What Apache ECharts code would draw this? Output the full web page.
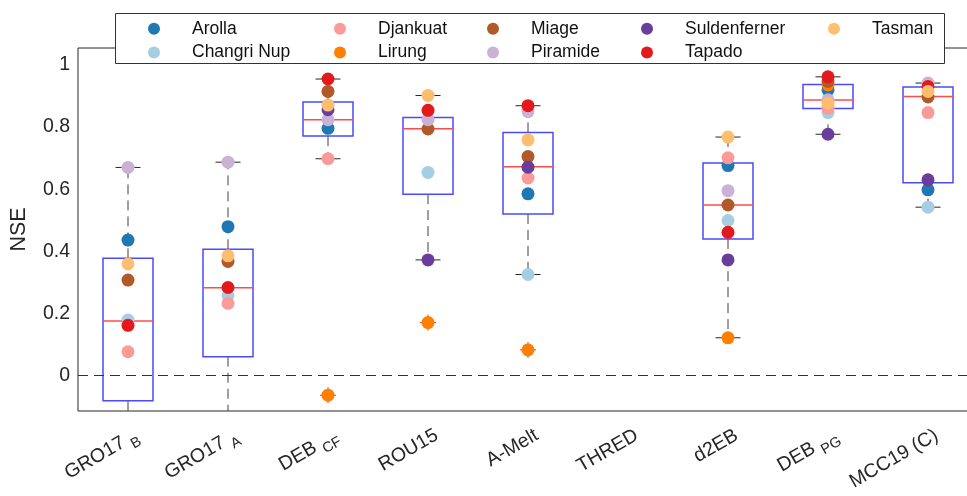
<!DOCTYPE html>
<html><head><meta charset="utf-8">
<script src="https://cdn.jsdelivr.net/npm/echarts@6/dist/echarts.min.js"></script>
<style>html,body{margin:0;padding:0;background:#fff}#c{width:967px;height:496px}</style>
</head><body><div id="c"></div>
<script>
// ---- data ----
const categories = ['GRO17_B','GRO17_A','DEB_CF','ROU15','A-Melt','THRED','d2EB','DEB_PG','MCC19 (C)'];
const labelMain = ['GRO17','GRO17','DEB','ROU15','A-Melt','THRED','d2EB','DEB','MCC19 (C)'];
const labelSub  = ['B','A','CF','','','','','PG',''];
const yTickValues = [0, 0.2, 0.4, 0.6, 0.8, 1];
const yTickLabels = ['0','0.2','0.4','0.6','0.8','1'];

// box statistics per category (null = no box)
const boxLow  = [-0.35, -0.30, 0.698, 0.372, 0.325, null, 0.121, 0.777, 0.542];
const boxQ1   = [-0.082, 0.060, 0.771, 0.584, 0.520, null, 0.439, 0.860, 0.621];
const boxMed  = [0.175, 0.282, 0.824, 0.795, 0.672, null, 0.549, 0.887, 0.899];
const boxQ3   = [0.377, 0.406, 0.881, 0.831, 0.783, null, 0.684, 0.937, 0.929];
const boxHigh = [0.670, 0.687, 0.955, 0.902, 0.869, null, 0.768, 0.962, 0.942];

// NSE per glacier, in category order
const glaciers = ['Arolla','Changri Nup','Djankuat','Lirung','Miage','Piramide','Suldenferner','Tapado','Tasman'];
const colors   = ['#1f78b4','#a6cee3','#fb9a99','#ff7f00','#b15928','#cab2d6','#6a3d9a','#e31a1c','#fdbf6f'];
const arolla       = [0.436, 0.479, 0.796, null, 0.585, null, 0.676, 0.920, 0.598];
const changriNup   = [0.178, 0.257, null, 0.654, 0.325, null, 0.499, 0.847, 0.542];
const djankuat     = [0.076, 0.232, 0.698, null, 0.636, null, 0.701, 0.861, 0.847];
const lirung       = [null, null, -0.064, 0.170, 0.082, null, 0.121, 0.936, null];
const miage        = [0.307, 0.367, 0.915, 0.794, 0.705, null, 0.549, 0.947, 0.897];
const piramide     = [0.670, 0.687, 0.824, 0.824, 0.850, null, 0.595, 0.888, 0.942];
const suldenferner = [null, null, 0.856, 0.372, 0.671, null, 0.372, 0.777, 0.630];
const tapado       = [0.161, 0.283, 0.955, 0.854, 0.869, null, 0.461, 0.962, 0.931];
const tasman       = [0.359, 0.385, 0.871, 0.902, 0.759, null, 0.768, 0.877, 0.915];
const glacierValues = [arolla, changriNup, djankuat, lirung, miage, piramide, suldenferner, tapado, tasman];

const legendCols = [['Arolla','Changri Nup'],['Djankuat','Lirung'],['Miage','Piramide'],['Suldenferner','Tapado'],['Tasman']];

// ---- chart ----
const FONT = '"Liberation Sans", Arial, Helvetica, sans-serif';
const chart = echarts.init(document.getElementById('c'), null, {renderer:'canvas'});

const boxData = [];
categories.forEach((c, i) => {
  if (boxMed[i] != null) boxData.push([i, boxLow[i], boxQ1[i], boxMed[i], boxQ3[i], boxHigh[i]]);
});
const outliers = [];
glacierValues.forEach(vals => vals.forEach((v, i) => {
  if (v != null && boxMed[i] != null && (v < boxLow[i] - 1e-6 || v > boxHigh[i] + 1e-6)) outliers.push([i, v]);
}));

const series = [];
series.push({
  type: 'custom', clip: true, z: 2, silent: true,
  encode: {x: 0, y: [1,2,3,4,5]},
  data: boxData,
  renderItem(params, api) {
    const i = api.value(0);
    const bw = api.size([1, 0])[0];
    const half = bw * 0.25, capHalf = bw * 0.125;
    const p = k => api.coord([i, api.value(k)]);
    const pl = p(1), p1 = p(2), pm = p(3), p3 = p(4), ph = p(5);
    const cx = pl[0];
    const dash = {stroke: '#404040', lineWidth: 1, lineDash: [10, 6], fill: null};
    const cap = {stroke: '#262626', lineWidth: 1, fill: null};
    return {type: 'group', children: [
      {type: 'line', shape: {x1: cx, y1: p3[1], x2: cx, y2: ph[1]}, style: dash},
      {type: 'line', shape: {x1: cx, y1: p1[1], x2: cx, y2: pl[1]}, style: dash},
      {type: 'line', shape: {x1: cx - capHalf, y1: ph[1], x2: cx + capHalf, y2: ph[1]}, style: cap},
      {type: 'line', shape: {x1: cx - capHalf, y1: pl[1], x2: cx + capHalf, y2: pl[1]}, style: cap},
      {type: 'rect', shape: {x: cx - half, y: p3[1], width: 2 * half, height: p1[1] - p3[1]},
        style: {fill: null, stroke: '#4a4aff', lineWidth: 1.5}},
      {type: 'line', shape: {x1: cx - half, y1: pm[1], x2: cx + half, y2: pm[1]},
        style: {stroke: '#ff4a4a', lineWidth: 1.5}}
    ]};
  },
  markLine: {
    silent: true, symbol: ['none', 'none'], label: {show: false}, animation: false,
    lineStyle: {type: [10, 6], color: '#333', width: 1},
    data: [{yAxis: 0}]
  }
});
series.push({
  type: 'custom', clip: true, z: 3, silent: true,
  encode: {x: 0, y: 1},
  data: outliers,
  renderItem(params, api) {
    const c = api.coord([api.value(0), api.value(1)]);
    const s = 8;
    const st = {stroke: '#ff2a2a', lineWidth: 1};
    return {type: 'group', children: [
      {type: 'line', shape: {x1: c[0] - s, y1: c[1], x2: c[0] + s, y2: c[1]}, style: st},
      {type: 'line', shape: {x1: c[0], y1: c[1] - s, x2: c[0], y2: c[1] + s}, style: st}
    ]};
  }
});
glaciers.forEach((g, k) => {
  series.push({
    type: 'scatter', name: g, symbol: 'circle', symbolSize: 13, z: 5,
    itemStyle: {color: colors[k], opacity: 1},
    data: glacierValues[k].map((v, i) => [i, v]).filter(d => d[1] != null)
  });
});

const legendLeft = [148, 334, 487, 641, 828];
const legends = legendCols.map((d, k) => ({
  data: d, orient: 'vertical', left: legendLeft[k], top: 19.8, padding: 0,
  itemWidth: 12, itemHeight: 12, itemGap: 5.7, icon: 'circle', selectedMode: false, z: 20,
  textStyle: {fontSize: 17.5, lineHeight: 17, color: '#111', fontFamily: FONT, padding: [0, 0, 0, 27]}
}));

chart.setOption({
  animation: false,
  backgroundColor: '#fff',
  color: colors,
  grid: {left: 78, top: 48, width: 900, height: 363, show: true, borderColor: '#262626', borderWidth: 1,
    backgroundColor: 'transparent', containLabel: false, outerBoundsMode: 'none'},
  legend: legends,
  graphic: [{type: 'rect', z: 10, shape: {x: 115.5, y: 13.5, width: 829, height: 50},
    style: {fill: '#fff', stroke: '#333', lineWidth: 1}}],
  xAxis: {
    type: 'category', data: categories, boundaryGap: true,
    axisLine: {show: false}, axisTick: {show: false}, splitLine: {show: false},
    axisLabel: {
      interval: 0, rotate: 30, margin: 28, color: '#262626', fontFamily: FONT, padding: [0, -10, 0, 0],
      formatter: (value, index) => labelSub[index]
        ? `{m|${labelMain[index]} }{s|${labelSub[index]}}`
        : `{m|${labelMain[index]}}`,
      rich: {
        m: {fontSize: 19.5, lineHeight: 20, verticalAlign: 'top', color: '#262626', fontFamily: FONT},
        s: {fontSize: 14.5, lineHeight: 15, verticalAlign: 'top', padding: [10, 0, 0, 0], color: '#262626', fontFamily: FONT}
      }
    }
  },
  yAxis: {
    type: 'value', min: -0.115, max: 1.055,
    axisLine: {show: false}, axisTick: {show: false}, splitLine: {show: false},
    axisLabel: {
      margin: 8, fontSize: 19.5, color: '#262626', fontFamily: FONT,
      formatter: v => { const k = yTickValues.findIndex(t => Math.abs(t - v) < 1e-6); return k < 0 ? '' : yTickLabels[k]; }
    },
    name: 'NSE', nameLocation: 'middle', nameGap: 48,
    nameTextStyle: {fontSize: 21.5, color: '#262626', fontFamily: FONT}
  },
  series
});
</script></body></html>
